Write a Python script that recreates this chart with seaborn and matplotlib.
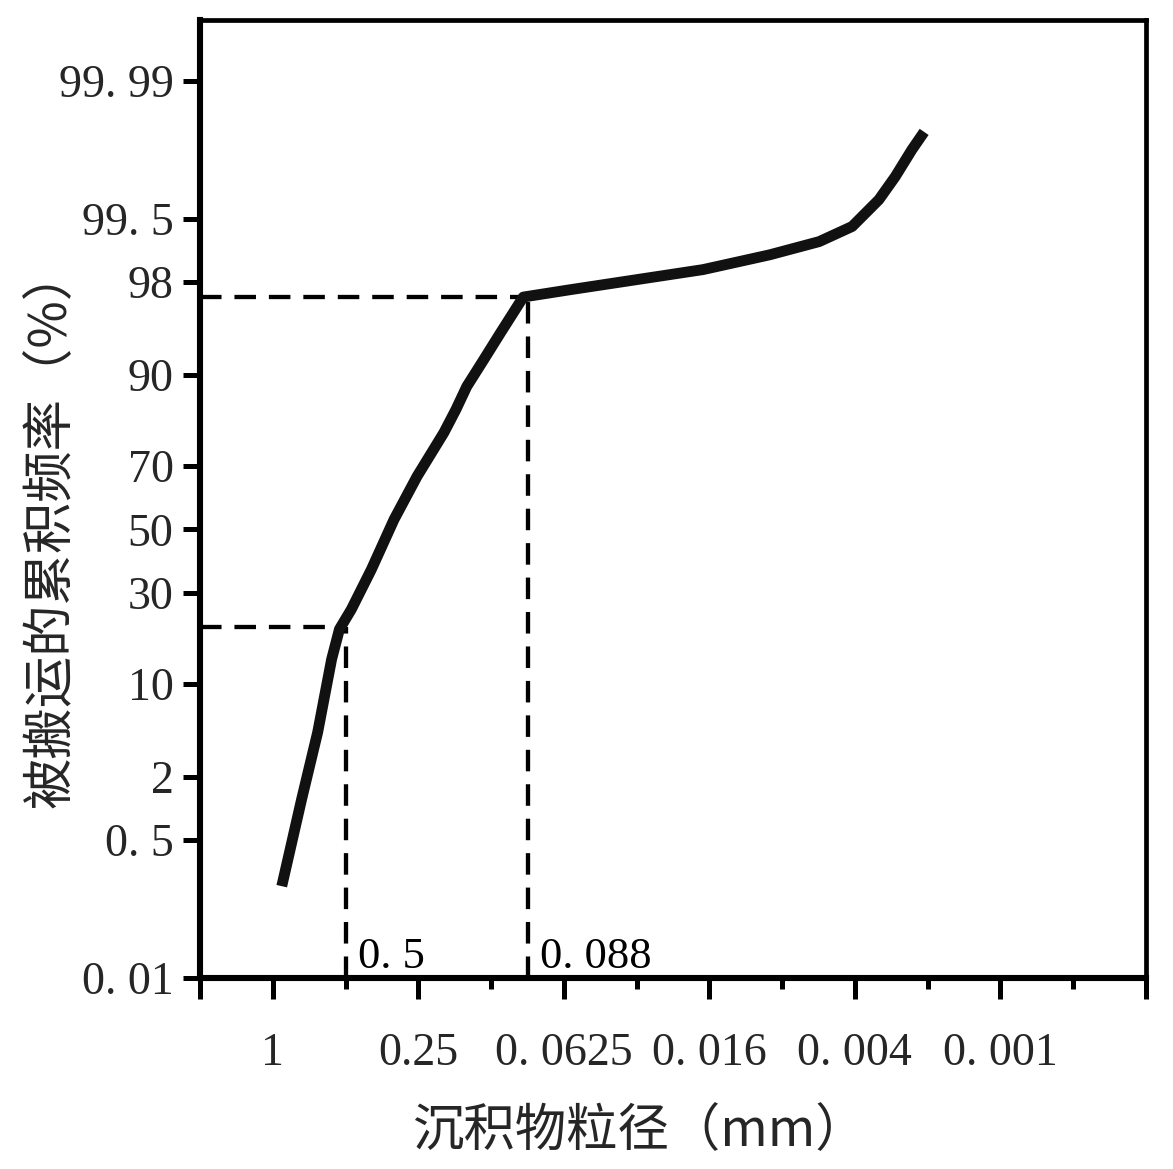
import numpy as np
import matplotlib
matplotlib.use('Agg')
import matplotlib.pyplot as plt
import seaborn as sns
import pandas as pd
from statistics import NormalDist

# ---- data ----
grain_size_mm = [0.918, 0.760, 0.652, 0.571, 0.530, 0.473, 0.391, 0.315, 0.253,
                 0.1959, 0.1747, 0.1576, 0.1340, 0.1141, 0.092, 0.0587, 0.0314,
                 0.0166, 0.00881, 0.00549, 0.00401, 0.00311, 0.00266, 0.00227,
                 0.00202]
cum_freq_pct = [0.155, 1.26, 4.63, 14.07, 20.4, 25.4, 37.0, 53.3, 67.0,
                78.9, 84.0, 88.2, 92.05, 94.87, 97.3, 97.66, 98.08,
                98.44, 98.86, 99.15, 99.40, 99.687, 99.828, 99.918,
                99.951]

y_ticks = [0.01, 0.5, 2, 10, 30, 50, 70, 90, 98, 99.5, 99.99]
y_tick_labels = ['0. 01', '0. 5', '2', '10', '30', '50', '70', '90', '98', '99. 5', '99. 99']

x_major_ticks = [2, 1, 0.25, 0.0625, 0.015625, 0.00390625, 0.0009765625, 0.000244140625]
x_major_labels = ['', '1', '0.25', '0. 0625', '0. 016', '0. 004', '0. 001', '']
x_minor_ticks = [0.5, 0.125, 0.03125, 0.0078125, 0.001953125, 0.00048828125]

cutoff_size = [0.5, 0.088]
cutoff_freq = [21.0, 97.3]
cutoff_labels = ['0. 5', '0. 088']

x_label = '沉积物粒径（mm）'
y_label = '被搬运的累积频率（%）'

# ---- probability scale ----
_nd = NormalDist()
_ppf = np.vectorize(_nd.inv_cdf, otypes=[float])
_cdf = np.vectorize(_nd.cdf, otypes=[float])


def prob_fwd(p):
    p = np.asarray(p, dtype=float)
    return _ppf(np.clip(p / 100.0, 1e-12, 1 - 1e-12))


def prob_inv(z):
    z = np.asarray(z, dtype=float)
    return _cdf(z) * 100.0


sns.set_theme(style='white')
plt.rcParams['font.family'] = ['Liberation Serif', 'DejaVu Serif']
cjk = ['Noto Sans CJK SC', 'DejaVu Sans']

fig = plt.figure(figsize=(11.73, 11.69), dpi=100)
W, H = 1173, 1169
ax = fig.add_axes([200 / W, (H - 978) / H, (1146 - 200) / W, (978 - 20) / H])

ax.set_xscale('log', base=2)
ax.set_yscale('function', functions=(prob_fwd, prob_inv))

df = pd.DataFrame({'size': grain_size_mm, 'freq': cum_freq_pct})

# dashed guide lines
dash = (0, (5.0, 3.0))
for s, f in zip(cutoff_size, cutoff_freq):
    ax.plot([2, s], [f, f], color='black', lw=3.1, ls=dash, zorder=2)
    ax.plot([s, s], [0.01, f], color='black', lw=3.1, ls=dash, zorder=2)

sns.lineplot(data=df, x='size', y='freq', ax=ax, color='#111111', lw=7.8,
             sort=False, estimator=None, zorder=3)
ax.lines[-1].set_solid_capstyle('butt')
ax.lines[-1].set_solid_joinstyle('round')

for s, lab in zip(cutoff_size, cutoff_labels):
    ax.annotate(lab, xy=(s, 0.01), xytext=(9, 1), textcoords='offset points',
                ha='left', va='bottom', fontsize=32, color='black')

ax.set_xlim(2, 2 ** -12)
ax.set_ylim(0.01, 99.9988)

ax.set_yticks(y_ticks)
ax.set_yticklabels(y_tick_labels)
ax.set_xticks(x_major_ticks)
ax.set_xticklabels(x_major_labels)
ax.set_xticks(x_minor_ticks, minor=True)
ax.set_xticklabels([''] * len(x_minor_ticks), minor=True)

ax.tick_params(axis='y', which='major', direction='out', length=12, width=3.6,
               labelsize=33, pad=7, color='black', left=True)
ax.tick_params(axis='x', which='major', direction='out', length=15, width=3.6,
               labelsize=33, pad=24, color='black', bottom=True)
ax.tick_params(axis='x', which='minor', direction='out', length=8, width=3.6,
               color='black', bottom=True)

for side, sp in ax.spines.items():
    sp.set_visible(True)
    sp.set_color('black')
    sp.set_linewidth(4.4 if side in ('left', 'bottom') else 3.4)

ax.set_xlabel(x_label, fontsize=37, family=cjk)
ax.set_ylabel(y_label, fontsize=37, family=cjk)
ax.xaxis.set_label_coords(0.464, -0.132)
ax.yaxis.set_label_coords(-0.13, 0.47)
ax.grid(False)
ax.set_facecolor('white')

fig.savefig('out.png', dpi=100, facecolor='white')
